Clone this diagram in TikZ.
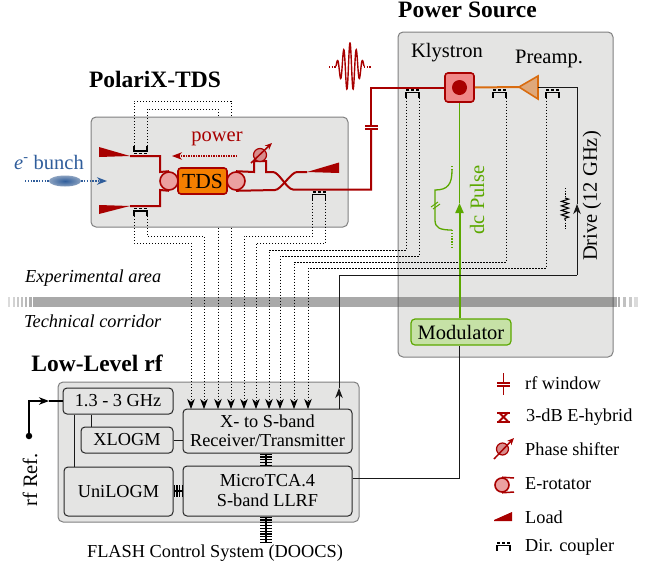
\documentclass[tikz,border=0pt]{standalone}
\usepackage{amsmath}
\usepackage{fontspec}
\setmainfont{Liberation Serif}
\usetikzlibrary{arrows.meta,decorations.pathmorphing,shapes.geometric}

\definecolor{panelgray}{HTML}{E4E4E3}
\definecolor{rfred}{HTML}{A80000}
\definecolor{pinkrot}{HTML}{EBA0A0}
\definecolor{klypink}{HTML}{F08888}
\definecolor{beamblue}{HTML}{2F5D9B}
\definecolor{dcgreen}{HTML}{5BA800}
\definecolor{tdsorange}{HTML}{F57F00}
\definecolor{preorange}{HTML}{D96C10}

\newcommand{\smalltext}{\fontsize{18.3}{21}\selectfont}
\newcommand{\largetext}{\fontsize{20.5}{23}\selectfont}
\newcommand{\titletext}{\fontsize{23.5}{26}\selectfont\bfseries}

\tikzset{
  >={Stealth[length=10pt,width=7.5pt,inset=3pt]},
  panel/.style={draw=black!50, fill=panelgray, rounded corners=5pt, line width=1pt, inner sep=0pt},
  llrfbox/.style={draw=black!85, fill=panelgray, rounded corners=4pt, line width=1pt, inner sep=0pt, align=center, font=\smalltext},
  wg/.style={rfred, line width=2pt},
  sensor/.style={black, line width=0.9pt, dash pattern=on 1.1pt off 1.9pt},
  drive/.style={black!90, line width=1pt},
  bus/.style={black, line width=12pt, dash pattern=on 1.3pt off 1.5pt},
  rotator/.style={circle, draw=rfred, fill=pinkrot, line width=1.6pt, minimum size=18pt, inner sep=0pt},
  coupler/.pic={
    \draw[black, line width=1.2pt, dash pattern=on 3pt off 2pt] (-6.5,0) -- (6.5,0);
    \draw[black, line width=1.2pt] (-6.5,7.5) -- (-6.5,2.5) -- (6.5,2.5) -- (6.5,7.5);
    \coordinate (-l) at (-6.5,7.5);
    \coordinate (-r) at (6.5,7.5);
  }
}

\begin{document}
\begin{tikzpicture}[x=1pt,y=-1pt]
\useasboundingbox (0,0) rectangle (667,571);

\node[panel, minimum width=257pt, minimum height=110pt] (tdspanel) at (219.5,172) {};
\node[panel, minimum width=215pt, minimum height=325pt] (powerpanel) at (505.5,194.5) {};
\node[panel, minimum width=301pt, minimum height=140pt] (llrfpanel) at (208.5,452) {};

\node[font=\titletext] (powertitle) at (467.5,10) {Power Source};
\node[font=\titletext] (tdstitle) at (155,79) {PolariX-TDS};
\node[font=\titletext] (llrftitle) at (97,363) {Low-Level rf};

%corridor
\fill[black!70, opacity=0.48] (33,297) rectangle (617,307);
\foreach \xpos/\barw/\baro in {8/2/0.2, 12.5/2/0.25, 16.5/2/0.3, 21/2/0.35, 25/2/0.4, 29/2.5/0.45, 618/1.5/0.45, 623/3/0.35, 628.5/3/0.3, 634/4/0.2}
  \fill[black!70, opacity=\baro] (\xpos,297) rectangle ({\xpos+\barw},307);
\node[font=\smalltext\itshape, anchor=west, inner sep=0pt] (exparea) at (25,278) {Experimental area};
\node[font=\smalltext\itshape, anchor=west, inner sep=0pt] (techcorr) at (24,321) {Technical corridor};

%low level rf boxes
\node[llrfbox, minimum width=110pt, minimum height=26pt] (rfbox) at (118,401) {1.3 - 3 GHz};
\node[llrfbox, minimum width=92pt, minimum height=26pt] (xlogm) at (127,440) {XLOGM};
\node[llrfbox, minimum width=169pt, minimum height=44pt] (xband) at (267.5,431) {X- to S-band\\[-2pt]Receiver/Transmitter};
\node[llrfbox, minimum width=109pt, minimum height=49pt] (unilogm) at (118.5,491.5) {UniLOGM};
\node[llrfbox, minimum width=169pt, minimum height=50pt] (tca) at (267.5,491) {MicroTCA.4\\[-1pt]S-band LLRF};
\node[font=\smalltext] (doocs) at (215,553) {FLASH Control System (DOOCS)};

\node[circle, fill=black, minimum size=6.5pt, inner sep=0pt] (rfdot) at (29,436) {};
\node[font=\largetext, rotate=90] (rfref) at (30,480) {rf Ref.};
\coordinate (rfmid) at (49,401);
\draw[black, line width=1.3pt, ->] (rfdot) |- (rfmid);
\draw[black, line width=1.3pt] (rfmid) -- (rfbox.west);
\draw[drive] (rfbox.south -| 74,0) -- (unilogm.north -| 74,0);
\draw[drive] (rfbox.south -| 91,0) -- (xlogm.north -| 91,0);
\draw[drive] (xlogm.east) -- (xband.west |- xlogm.east);

\coordinate (busx) at (266,0);
\coordinate (doocsbus) at (266,543);
\draw[bus] (xband.south -| busx) -- (tca.north -| busx);
\draw[black, line width=2pt] (xband.south -| busx) -- (tca.north -| busx);
\draw[bus] (tca.south -| busx) -- (doocsbus);
\draw[black, line width=2pt] (tca.south -| busx) -- (doocsbus);
\draw[bus] (unilogm.east |- 0,491) -- (tca.west |- 0,491);
\draw[black, line width=2pt] (unilogm.east |- 0,491) -- (tca.west |- 0,491);

%inputs of the receiver
\foreach \name/\xpos in {a/191, b/204, c/218, d/231, e/244, f/256, g/269, h/280, i/294, j/308}
  \coordinate (in\name) at (\xpos,409);

\pic (cpa) at (140.5,153.5) [yscale=-1] {coupler};
\pic (cpb) at (140.5,208.5) {coupler};
\pic (cpc) at (319,192) {coupler};
\pic (cpd) at (412.5,90) {coupler};
\pic (cpe) at (499.5,90) {coupler};
\pic (cpf) at (552.5,90) {coupler};

\draw[sensor] (cpa-l) |- (ind |- 0,101) -- (ind |- tdspanel.north);
\draw[sensor] (cpa-r) |- (inc |- 0,109) -- (inc |- tdspanel.north);
\draw[sensor,->] (ind |- tdspanel.south) -- (ind);
\draw[sensor,->] (inc |- tdspanel.south) -- (inc);
\draw[sensor,->] (cpb-l) |- (ina |- 0,243) -- (ina);
\draw[sensor,->] (cpb-r) |- (inb |- 0,236) -- (inb);
\draw[sensor,->] (cpc-l) |- (ine |- 0,236) -- (ine);
\draw[sensor,->] (cpc-r) |- (inf |- 0,243) -- (inf);
\draw[sensor,->] (cpd-l) |- (ing |- 0,250) -- (ing);
\draw[sensor,->] (cpd-r) |- (inh |- 0,256) -- (inh);
\draw[sensor,->] (cpe-r) |- (ini |- 0,262) -- (ini);
\draw[sensor,->] (cpf-l) |- (inj |- 0,268) -- (inj);

%structure
\node[rotator] (rotl) at (169,181) {};
\node[rotator] (rotr) at (236,181) {};
\node[draw=rfred, fill=tdsorange, rounded corners=3pt, line width=1.6pt, minimum width=49pt, minimum height=26pt, inner sep=0pt, font=\fontsize{21.5}{23}\selectfont] (tds) at (202.5,181) {TDS};
\coordinate (loada) at (130,156);
\coordinate (loadb) at (130,206);
\coordinate (loadc) at (307,172);
\fill[rfred] (99,147) -- (loada) -- (99,157) -- cycle;
\fill[rfred] (99,205) -- (loadb) -- (99,214) -- cycle;
\fill[rfred] (339,162.5) -- (loadc) -- (339,173) -- cycle;
\draw[wg] (loada) -| (160,172) -- (rotl.north);
\draw[wg] (loadb) -| (160,190) -- (rotl.south);

\coordinate (winb) at (371,129);
\coordinate (wint) at (371,126);
\node[draw=rfred, fill=klypink, rounded corners=3pt, line width=1.6pt, minimum size=29pt, inner sep=0pt] (klystron) at (459.5,87.5) {};
\node[circle, fill=rfred, minimum size=15pt, inner sep=0pt] (beam) at (459.5,87.5) {};
\draw[wg] (rotr.north) -- (254,172) -- (254,161) -- (266,161) -- (266,172) -- (273,172) .. controls (279,172) and (287,189.5) .. (293,189.5) -| (winb);
\draw[wg] (rotr.south) -- (275,190) .. controls (281,190) and (291,172) .. (297,172) -- (loadc);
\draw[wg] (wint) |- (klystron.west);
\draw[rfred, line width=1.6pt] (365,126) -- (378,126);
\draw[rfred, line width=1.6pt] (365,129) -- (378,129);
\node[circle, draw=rfred, fill=rfred!45!white, line width=1.2pt, minimum size=13pt, inner sep=0pt] (shifter) at (260,155) {};
\draw[rfred, line width=1.5pt, -{Stealth[length=7pt,width=6pt]}] (251,163) -- (272,143);

\node[font=\largetext, text=rfred] (powerlabel) at (217,139) {power};
\coordinate (powerr) at (237,156);
\coordinate (powerl) at (172,156);
\draw[rfred, line width=1.2pt, dash pattern=on 1.5pt off 1pt, ->] (powerr) -- (powerl);

\node[ellipse, minimum width=32pt, minimum height=11pt, inner sep=0pt, inner color=beamblue, outer color=beamblue!50!panelgray] (bunch) at (65,181) {};
\coordinate (bunchl) at (25,181);
\coordinate (bunchr) at (107,181);
\draw[beamblue, line width=1.2pt, dash pattern=on 1.3pt off 1.5pt] (bunchl) -- (bunch.west);
\draw[beamblue, line width=1.2pt, dash pattern=on 1.3pt off 1.5pt, ->] (bunch.east) -- (bunchr);
\node[font=\largetext, text=beamblue, anchor=west, inner sep=0pt] (bunchlabel) at (14,162) {\textit{e}\textsuperscript{-} bunch};

%pulse
\draw[rfred, line width=1.4pt] plot[smooth, domain=-14:14, samples=120] ({350+\x},{67-24*exp(-(\x*\x)/120)*cos(360*\x/6.3)});
\coordinate (pulsel) at (329,67);
\coordinate (pulser) at (372,67);
\draw[rfred, line width=1.2pt, dash pattern=on 1.2pt off 1.5pt] (pulsel) -- (336,67);
\draw[rfred, line width=1.2pt, dash pattern=on 1.2pt off 1.5pt] (364,67) -- (pulser);

%power source
\node[font=\largetext] (klylabel) at (447,53) {Klystron};
\node[font=\largetext] (prelabel) at (549,59) {Preamp.};
\coordinate (prein) at (519,87);
\coordinate (preout) at (538,87);
\draw[draw=preorange, fill=preorange!50!panelgray, line width=1.6pt] (prein) -- (538,76) -- (538,99) -- cycle;
\draw[preorange, line width=2pt] (klystron.east) -- (prein);

\node[draw=dcgreen, fill=dcgreen!35!white, rounded corners=4pt, line width=1.2pt, minimum width=100pt, minimum height=26pt, inner sep=0pt, font=\largetext] (modulator) at (461,332) {Modulator};
\coordinate (dcarrow) at (459.5,203);
\draw[dcgreen, line width=2pt, -{Stealth[length=10pt,width=8pt,inset=0pt]}] (modulator.north -| dcarrow) -- (dcarrow);
\draw[dcgreen, line width=1.4pt] (dcarrow) -- (klystron.south);
\node[font=\largetext, text=dcgreen, rotate=90] (dclabel) at (477,200) {dc Pulse};
\draw[dcgreen, line width=1.3pt] (452,170) .. controls (452,184) and (448,190) .. (435,190) -- (435,220) .. controls (435,228) and (440,230) .. (452,230);
\draw[dcgreen, line width=1.2pt, dash pattern=on 1.3pt off 1.5pt] (452,230) -- (452,247);
\draw[dcgreen, line width=1.2pt, dash pattern=on 1.3pt off 1.5pt] (452,170) -- (452,165);
\draw[dcgreen, line width=1pt] (431,207) -- (438,202);
\draw[dcgreen, line width=1pt] (433,209) -- (440,204);

\coordinate (drivea) at (339,388);
\coordinate (driveb) at (577,204);
\coordinate (drivec) at (577,275);
\draw[drive, ->] (xband.north -| drivea) -- (drivea);
\draw[drive] (drivea) |- (drivec);
\draw[drive, ->] (drivec) -- (driveb);
\draw[drive] (driveb) |- (preout);
\node[font=\largetext, rotate=90] (drivelabel) at (592,196) {Drive (12 GHz)};
\draw[black, line width=1pt, dash pattern=on 1.2pt off 1.5pt] (565,188) -- (565,198);
\draw[black, line width=1.1pt, decorate, decoration={zigzag, amplitude=3.5pt, segment length=4.5pt}] (565,198) -- (565,220);
\draw[black, line width=1pt, dash pattern=on 1.2pt off 1.5pt] (565,220) -- (565,230);

\draw[drive] (tca.east |- 0,478) -| (klystron |- modulator.south);

%legend
\draw[rfred, line width=1.4pt] (503.5,373) -- (503.5,383);
\draw[rfred, line width=1.4pt] (503.5,386) -- (503.5,395);
\draw[rfred, line width=1.6pt] (497,383) -- (510,383);
\draw[rfred, line width=1.6pt] (497,386) -- (510,386);
\node[font=\smalltext, anchor=west, inner sep=0pt] (leg1) at (525,383) {rf window};

\draw[rfred, line width=2pt] (497,412.5) -- (510,412.5);
\draw[rfred, line width=2pt] (497,421.5) -- (510,421.5);
\draw[rfred, line width=2pt] (499,412.5) -- (508,421.5);
\draw[rfred, line width=2pt] (508,412.5) -- (499,421.5);
\node[font=\smalltext, anchor=west, inner sep=0pt] (leg2) at (526,417) {3-dB E-hybrid};

\node[circle, draw=rfred, fill=rfred!45!white, line width=1.2pt, minimum size=12pt, inner sep=0pt] (legshift) at (502.5,449) {};
\draw[rfred, line width=1.5pt, -{Stealth[length=7pt,width=6pt]}] (494,459) -- (514,438);
\node[font=\smalltext, anchor=west, inner sep=0pt] (leg3) at (525,449) {Phase shifter};

\node[rotator, minimum size=14pt] (legrot) at (502,485) {};
\draw[rfred, line width=1.5pt] (legrot.north) -- (514,478);
\draw[rfred, line width=1.5pt] (legrot.south) -- (514,492);
\node[font=\smalltext, anchor=west, inner sep=0pt] (leg4) at (525,484) {E-rotator};

\fill[rfred] (494,520) -- (512,512) -- (512,521) -- (494,521) -- cycle;
\node[font=\smalltext, anchor=west, inner sep=0pt] (leg5) at (525,517) {Load};

\pic (cpg) at (503.5,543) {coupler};
\node[font=\smalltext, anchor=west, inner sep=0pt] (leg6) at (525,547) {Dir. coupler};
\end{tikzpicture}
\end{document}
